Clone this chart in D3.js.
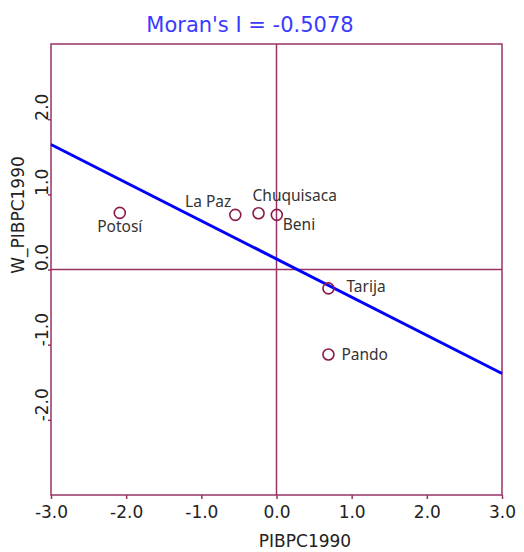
<!DOCTYPE html>
<html>
<head>
<meta charset="utf-8">
<script src="https://cdn.jsdelivr.net/npm/d3@7"></script>
<style>
  html, body { margin: 0; padding: 0; background: #fff; }
  svg { display: block; }
</style>
</head>
<body>
<svg id="chart" width="524" height="552"></svg>
<script>
// ---- data ----
const regions = ["Potosí", "La Paz", "Chuquisaca", "Beni", "Tarija", "Pando"];
const pibpc1990 = [-2.085, -0.548, -0.239, 0.004, 0.691, 0.691];
const wPibpc1990 = [0.753, 0.727, 0.749, 0.727, -0.251, -1.131];
const moransI = -0.5078;
const lineIntercept = 0.14;
const xTicks = [-3, -2, -1, 0, 1, 2, 3];
const yTicks = [-2, -1, 0, 1, 2];

// ---- layout / style ----
const plotL = 51, plotR = 502, plotT = 44, plotB = 495;
const frameColor = "#993366";
const labelPlacement = {
  "Potosí":     { dx: 0,   dy: 19,  anchor: "middle" },
  "La Paz":     { dx: -4,  dy: -8,  anchor: "end" },
  "Chuquisaca": { dx: -6,  dy: -12, anchor: "start" },
  "Beni":       { dx: 6,   dy: 15,  anchor: "start" },
  "Tarija":     { dx: 18,  dy: 3.5, anchor: "start" },
  "Pando":      { dx: 13,  dy: 5,   anchor: "start" }
};
const fmt = d => d.toFixed(1);

const svg = d3.select("#chart");
const x = d3.scaleLinear().domain([-3, 3]).range([plotL, plotR]);
const y = d3.scaleLinear().domain([-3, 3]).range([plotB, plotT]);

// title
svg.append("text")
  .attr("x", 250).attr("y", 32)
  .attr("text-anchor", "middle")
  .attr("font-family", "DejaVu Sans, Verdana, sans-serif")
  .attr("font-size", 21)
  .attr("fill", "#3a3aff")
  .text("Moran's I = " + moransI.toFixed(4));

// frame
svg.append("rect")
  .attr("x", plotL).attr("y", plotT)
  .attr("width", plotR - plotL).attr("height", plotB - plotT)
  .attr("fill", "none").attr("stroke", frameColor).attr("stroke-width", 1.5);

// zero lines
svg.append("line")
  .attr("x1", x(0)).attr("x2", x(0)).attr("y1", plotT).attr("y2", plotB)
  .attr("stroke", frameColor).attr("stroke-width", 1.5);
svg.append("line")
  .attr("x1", plotL).attr("x2", plotR).attr("y1", y(0)).attr("y2", y(0))
  .attr("stroke", frameColor).attr("stroke-width", 1.5);

// x axis
const xAxis = d3.axisBottom(x).tickValues(xTicks).tickSize(4).tickPadding(7)
  .tickFormat(fmt);
const gx = svg.append("g").attr("transform", `translate(0,${plotB})`).call(xAxis);
gx.select(".domain").remove();
gx.selectAll(".tick line").attr("stroke", frameColor).attr("stroke-width", 1.5);
gx.selectAll(".tick text")
  .attr("font-family", "DejaVu Sans, Verdana, sans-serif")
  .attr("font-size", 17).attr("fill", "#222");

// y axis
const yAxis = d3.axisLeft(y).tickValues(yTicks).tickSize(3).tickFormat(fmt);
const gy = svg.append("g").attr("transform", `translate(${plotL},0)`).call(yAxis);
gy.select(".domain").remove();
gy.selectAll(".tick line").attr("stroke", frameColor).attr("stroke-width", 1.5);
gy.selectAll(".tick text")
  .attr("font-family", "DejaVu Sans, Verdana, sans-serif")
  .attr("font-size", 17).attr("fill", "#222")
  .attr("x", null).attr("dy", null)
  .attr("text-anchor", "start")
  .attr("transform", "translate(-3,1) rotate(-90)");

// axis titles
svg.append("text")
  .attr("x", 305).attr("y", 547)
  .attr("text-anchor", "middle")
  .attr("font-family", "DejaVu Sans, Verdana, sans-serif")
  .attr("font-size", 17).attr("fill", "#222")
  .text("PIBPC1990");
svg.append("text")
  .attr("transform", "translate(24,215) rotate(-90)")
  .attr("text-anchor", "middle")
  .attr("font-family", "DejaVu Sans, Verdana, sans-serif")
  .attr("font-size", 17).attr("fill", "#222")
  .text("W_PIBPC1990");

// regression line
svg.append("line")
  .attr("x1", x(-3)).attr("y1", y(lineIntercept + moransI * -3))
  .attr("x2", x(3)).attr("y2", y(lineIntercept + moransI * 3))
  .attr("stroke", "#0000ff").attr("stroke-width", 3);

// points
const pts = regions.map((name, i) => ({ name, x: pibpc1990[i], y: wPibpc1990[i] }));
svg.append("g").selectAll("circle").data(pts).join("circle")
  .attr("cx", d => x(d.x)).attr("cy", d => y(d.y)).attr("r", 5.5)
  .attr("fill", "none").attr("stroke", "#8b1a4a").attr("stroke-width", 1.6);

svg.append("g").selectAll("text").data(pts).join("text")
  .attr("x", d => x(d.x) + labelPlacement[d.name].dx)
  .attr("y", d => y(d.y) + labelPlacement[d.name].dy)
  .attr("text-anchor", d => labelPlacement[d.name].anchor)
  .attr("font-family", "Noto Sans, Open Sans, sans-serif")
  .attr("font-size", 15.5).attr("fill", "#333")
  .text(d => d.name);
</script>
</body>
</html>
